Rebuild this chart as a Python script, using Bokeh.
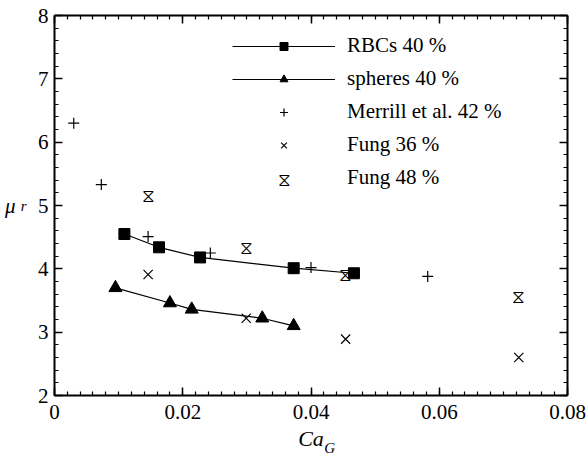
from bokeh.plotting import figure
from bokeh.models import (Legend, LegendItem, LinearAxis, SingleIntervalTicker, FixedTicker,
                          Label, Range1d)
from bokeh.core.properties import value
from bokeh.embed import file_html
from bokeh.resources import INLINE

# ---- data ----
rbc_x = [0.0109, 0.0163, 0.0227, 0.0373, 0.0467]
rbc_y = [4.55, 4.34, 4.18, 4.01, 3.93]
sph_x = [0.0095, 0.0180, 0.0214, 0.0324, 0.0373]
sph_y = [3.70, 3.46, 3.36, 3.22, 3.10]
merrill_x = [0.0030, 0.0073, 0.0146, 0.0243, 0.0400, 0.0582]
merrill_y = [6.30, 5.33, 4.51, 4.25, 4.02, 3.88]
fung36_x = [0.0146, 0.0299, 0.0454, 0.0724]
fung36_y = [3.91, 3.22, 2.89, 2.60]
fung48_x = [0.0146, 0.0299, 0.0454, 0.0724]
fung48_y = [5.16, 4.33, 3.91, 3.57]

series_labels = ["RBCs 40 %", "spheres 40 %", "Merrill et al. 42 %", "Fung 36 %", "Fung 48 %"]
x_tick_labels = {0: "0", 0.02: "0.02", 0.04: "0.04", 0.06: "0.06", 0.08: "0.08"}
y_tick_labels = {2: "2", 3: "3", 4: "4", 5: "5", 6: "6", 7: "7", 8: "8"}
blank_x = {0: "", 0.02: "", 0.04: "", 0.06: "", 0.08: ""}
blank_y = {2: "", 3: "", 4: "", 5: "", 6: "", 7: "", 8: ""}
HOURGLASS = "\u29d6"

FONT = "Liberation Serif"

p = figure(frame_width=513, frame_height=380, output_backend="svg", toolbar_location=None,
           x_range=Range1d(0, 0.08), y_range=Range1d(2, 8),
           min_border_left=54, min_border_right=20, min_border_top=15, min_border_bottom=0)
p.outline_line_color = None
p.xgrid.visible = False
p.ygrid.visible = False


def style(ax, tk, ov):
    ax.ticker = tk
    ax.major_label_overrides = ov
    ax.axis_line_width = 2
    ax.axis_line_color = "black"
    ax.major_tick_in = 8
    ax.major_tick_out = 0
    ax.minor_tick_in = 4
    ax.minor_tick_out = 0
    ax.major_tick_line_width = 1.5
    ax.minor_tick_line_width = 1.2
    ax.major_tick_line_color = "black"
    ax.minor_tick_line_color = "black"
    ax.major_label_text_font = FONT
    ax.major_label_text_font_size = "21px"
    ax.major_label_text_color = "black"


style(p.below[0], SingleIntervalTicker(interval=0.02, num_minor_ticks=10), x_tick_labels)
style(p.left[0], SingleIntervalTicker(interval=1, num_minor_ticks=5), y_tick_labels)
p.below[0].major_label_standoff = 9
p.left[0].major_label_standoff = 6

top = LinearAxis()
right = LinearAxis()
style(top, SingleIntervalTicker(interval=0.02, num_minor_ticks=10), blank_x)
style(right, SingleIntervalTicker(interval=1, num_minor_ticks=5), blank_y)
p.add_layout(top, "above")
p.add_layout(right, "right")


def title_axis(text, size, standoff, horizontal=False):
    ax = LinearAxis(ticker=FixedTicker(ticks=[]), axis_label=text)
    ax.axis_line_color = None
    ax.major_tick_line_color = None
    ax.minor_tick_line_color = None
    ax.major_tick_in = 0
    ax.major_tick_out = 0
    ax.minor_tick_in = 0
    ax.minor_tick_out = 0
    ax.major_label_standoff = 0
    ax.axis_label_standoff = standoff
    ax.axis_label_text_font = FONT
    ax.axis_label_text_font_style = "italic"
    ax.axis_label_text_font_size = size
    ax.axis_label_text_color = "black"
    if horizontal:
        ax.axis_label_orientation = "horizontal"
    return ax


# x title: "Ca" with subscript "G"
p.add_layout(title_axis("Ca", "22px", 4), "below")
p.add_layout(title_axis("\u2003\u2003\u2002G", "15px", -14), "below")
# y title: mu with subscript r
p.add_layout(title_axis("r", "15px", 8, True), "left")
p.add_layout(title_axis("\u03bc", "21px", 2, True), "left")

# ---- data marks ----
r_rbc_line = p.line(rbc_x, rbc_y, line_color="black", line_width=1.2)
r_rbc_pts = p.scatter(rbc_x, rbc_y, marker="square", size=11, fill_color="black", line_color="black")
r_sph_line = p.line(sph_x, sph_y, line_color="black", line_width=1.2)
r_sph_pts = p.scatter(sph_x, sph_y, marker="triangle", size=13, fill_color="black", line_color="black")
r_mer = p.scatter(merrill_x, merrill_y, marker="cross", size=11, line_color="black", line_width=1.2)
r_f36 = p.scatter(fung36_x, fung36_y, marker="x", size=13, line_color="black", line_width=1.2)
p.text(fung48_x, fung48_y, text=value(HOURGLASS), text_font=value("DejaVu Sans"),
       text_font_size="18px", text_align="center", text_baseline="middle", text_color="black")
# transparent stand-in so the legend row has a renderer
r_f48 = p.scatter(fung48_x, fung48_y, marker="x", size=1, line_alpha=0, fill_alpha=0)

legend = Legend(items=[
    LegendItem(label=series_labels[0], renderers=[r_rbc_line, r_rbc_pts]),
    LegendItem(label=series_labels[1], renderers=[r_sph_line, r_sph_pts]),
    LegendItem(label=series_labels[2], renderers=[r_mer]),
    LegendItem(label=series_labels[3], renderers=[r_f36]),
    LegendItem(label=series_labels[4], renderers=[r_f48]),
], location=(178, 205), glyph_width=103, glyph_height=20, spacing=8, label_standoff=12,
    padding=0, margin=0, border_line_color=None, background_fill_alpha=0,
    label_text_font=FONT, label_text_font_size="21px", label_text_color="black")
p.add_layout(legend)
# hourglass swatch for the last legend row
p.add_layout(Label(x=229.5, y=216.5, x_units="screen", y_units="screen", text=HOURGLASS,
                   text_font="DejaVu Sans", text_font_size="18px", text_align="center",
                   text_baseline="middle", text_color="black"))

open("out.html", "w").write(file_html(p, INLINE))
